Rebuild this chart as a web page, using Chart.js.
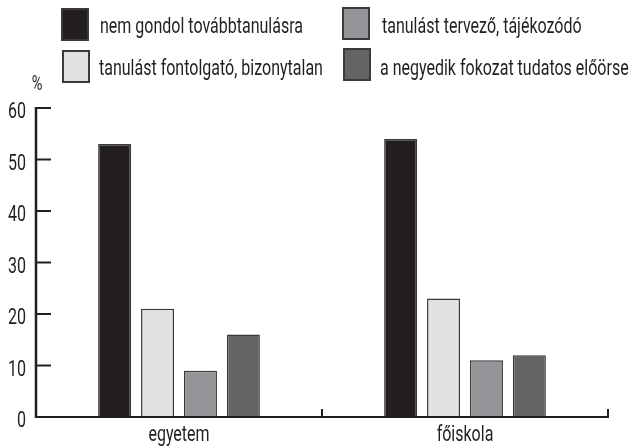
<!DOCTYPE html>
<html>
<head>
<meta charset="utf-8">
<script src="https://cdn.jsdelivr.net/npm/chart.js@4/dist/chart.umd.min.js"></script>
<style>
  html, body { margin: 0; padding: 0; background: #fff; }
  #wrap { position: relative; width: 629px; height: 446px; }
</style>
</head>
<body>
<div id="wrap"><canvas id="chart" width="629" height="446"></canvas></div>
<script>
// Data
const categories = ['egyetem', 'főiskola'];
const seriesLabels = [
    'nem gondol továbbtanulásra',
    'tanulást fontolgató, bizonytalan',
    'tanulást tervező, tájékozódó',
    'a negyedik fokozat tudatos előörse'
];
const notPlanning = [53, 54];
const undecided = [21, 23];
const planning = [9, 11];
const fourthLevel = [16, 12];
const yTicks = [0, 10, 20, 30, 40, 50, 60];

const colors = ['#231f20', '#e1e2e4', '#939598', '#636466'];
const FONT = 'Roboto, "Liberation Sans", sans-serif';
const INK = '#231f20';

// legend slots: box [x, y], column-major like the original
const legendPos = [[62, 9], [63, 51], [343, 8], [344, 49]];
const legendBaseline = [33, 75, 33, 75];
const legendTextX = [100, 99, 382, 380];

// condensed text: squeeze a normal font horizontally
let squeeze = 1;
function condensedText(ctx, text, x, y, size, align) {
    ctx.save();
    ctx.font = size + 'px ' + FONT;
    ctx.textAlign = align;
    ctx.textBaseline = 'alphabetic';
    ctx.translate(x, y);
    ctx.scale(squeeze, 1);
    ctx.fillText(text, 0, 0);
    ctx.restore();
}

const customDraw = {
    id: 'customDraw',
    afterDraw(chart) {
        const ctx = chart.ctx;
        const x = chart.scales.x;
        const y = chart.scales.y;
        const area = chart.chartArea;

        ctx.save();
        ctx.font = '22px ' + FONT;
        squeeze = 203 / ctx.measureText(seriesLabels[0]).width;
        ctx.restore();

        ctx.save();
        ctx.strokeStyle = INK;
        ctx.fillStyle = INK;
        ctx.lineCap = 'butt';

        // y axis line + inward ticks + labels
        ctx.lineWidth = 2.5;
        ctx.beginPath();
        ctx.moveTo(area.left, y.getPixelForValue(60) - 1);
        ctx.lineTo(area.left, y.getPixelForValue(0) + 1);
        ctx.stroke();
        ctx.lineWidth = 2;
        yTicks.forEach(v => {
            const py = y.getPixelForValue(v);
            ctx.beginPath();
            ctx.moveTo(area.left, py);
            ctx.lineTo(area.left + 15, py);
            ctx.stroke();
            condensedText(ctx, String(v), area.left - 10, py + 10, 22, 'right');
        });

        // x axis line + upward ticks at category boundaries + labels
        const py0 = y.getPixelForValue(0);
        ctx.beginPath();
        ctx.moveTo(area.left, py0);
        ctx.lineTo(area.right + 1, py0);
        ctx.stroke();
        const step = x.getPixelForValue(1) - x.getPixelForValue(0);
        categories.forEach((c, i) => {
            const px = x.getPixelForValue(i) + step / 2;
            ctx.beginPath();
            ctx.moveTo(px, py0);
            ctx.lineTo(px, py0 - 8);
            ctx.stroke();
            condensedText(ctx, c, x.getPixelForValue(i), 441, 22, 'center');
        });

        // "%" unit label
        condensedText(ctx, '%', 37, 90, 20, 'center');

        // legend
        chart.data.datasets.forEach((ds, i) => {
            const [bx, by] = legendPos[i];
            ctx.fillStyle = ds.backgroundColor;
            ctx.fillRect(bx, by, 26, 31);
            ctx.lineWidth = 2;
            ctx.strokeStyle = '#3a3a3a';
            ctx.strokeRect(bx, by, 26, 31);
            ctx.fillStyle = INK;
            condensedText(ctx, ds.label, legendTextX[i], legendBaseline[i], 22, 'left');
        });
        ctx.restore();
    }
};

const ctx = document.getElementById('chart').getContext('2d');
new Chart(ctx, {
    type: 'bar',
    data: {
        labels: categories,
        datasets: [notPlanning, undecided, planning, fourthLevel].map((d, i) => ({
            label: seriesLabels[i],
            data: d,
            backgroundColor: colors[i],
            borderColor: '#3a3a3a',
            borderWidth: 1.5,
            borderSkipped: 'bottom',
            categoryPercentage: 0.6,
            barPercentage: 0.77
        }))
    },
    options: {
        responsive: false,
        animation: false,
        layout: { padding: { top: 108, right: 21, left: 0, bottom: 0 } },
        plugins: {
            legend: { display: false },
            tooltip: { enabled: false }
        },
        scales: {
            x: {
                grid: { display: false },
                border: { display: false },
                ticks: { display: false },
                afterFit(scale) { scale.height = 29; }
            },
            y: {
                min: 0,
                max: 60,
                grid: { display: false },
                border: { display: false },
                ticks: { display: false, stepSize: 10 },
                afterFit(scale) { scale.width = 36; }
            }
        }
    },
    plugins: [customDraw]
});
</script>
</body>
</html>
